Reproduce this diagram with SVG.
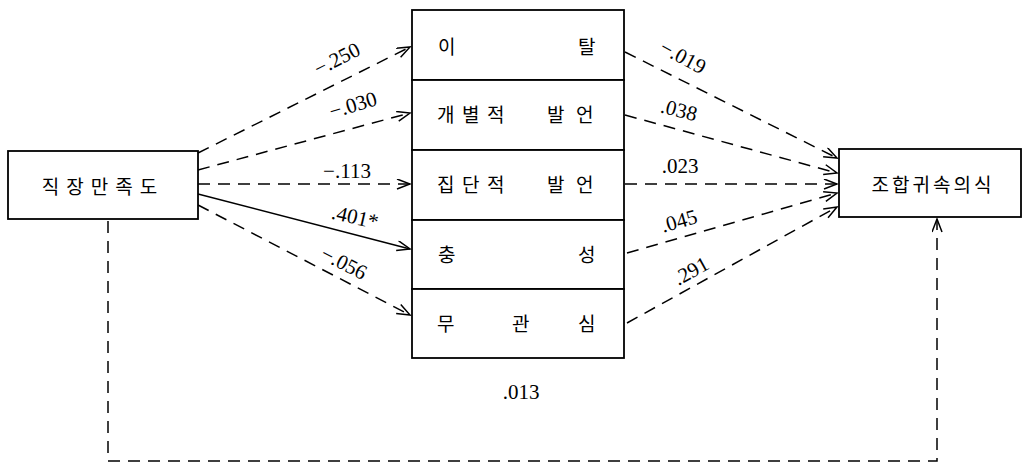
<svg xmlns="http://www.w3.org/2000/svg" width="1022" height="473" viewBox="0 0 1022 473">
<style>
.box{fill:#fff;stroke:#000;stroke-width:1.8}
.ko{font-family:"Noto Sans CJK KR","Noto Sans",sans-serif;font-size:19px;fill:#000;dominant-baseline:central}
.num{font-family:"Liberation Serif",serif;font-size:21px;fill:#000;text-anchor:middle;dominant-baseline:central}
.dash{fill:none;stroke:#000;stroke-width:1.5;stroke-dasharray:12 8}
.solid{fill:none;stroke:#000;stroke-width:1.5}
</style>
<defs>
<marker id="arr" markerUnits="userSpaceOnUse" markerWidth="16" markerHeight="12" refX="14" refY="5.5" orient="auto">
<path d="M1,0.5 L14,5.5 L1,10.5" fill="none" stroke="#000" stroke-width="1.5" stroke-dasharray="none"/>
</marker>
</defs>
<rect width="1022" height="473" fill="#fff"/>
<g id="connectors">
<path class="dash" d="M198,153 L410,47" marker-end="url(#arr)"/>
<path class="dash" d="M198,170 L410,113" marker-end="url(#arr)"/>
<path class="dash" d="M198,184 L410,184" marker-end="url(#arr)"/>
<path class="solid" d="M198,194 L410,249" marker-end="url(#arr)"/>
<path class="dash" d="M198,205 L410,315" marker-end="url(#arr)"/>
<path class="dash" d="M625,52 L837,158" marker-end="url(#arr)"/>
<path class="dash" d="M625,115 L837,173" marker-end="url(#arr)"/>
<path class="dash" d="M625,184 L837,184" marker-end="url(#arr)"/>
<path class="dash" d="M627,253 L837,193" marker-end="url(#arr)"/>
<path class="dash" d="M627,323 L837,207" marker-end="url(#arr)"/>
<path class="dash" d="M108,221 V461 H937 V219" marker-end="url(#arr)"/>
<text class="num" transform="translate(337,59) rotate(-27)">−.250</text>
<text class="num" transform="translate(353,105) rotate(-17)">−.030</text>
<text class="num" transform="translate(347,171)">−.113</text>
<text class="num" transform="translate(355,217) rotate(13)">.401*</text>
<text class="num" transform="translate(344,263) rotate(27)">−.056</text>
<text class="num" transform="translate(683,57) rotate(28)">−.019</text>
<text class="num" transform="translate(679,110) rotate(14)">.038</text>
<text class="num" transform="translate(680,166)">.023</text>
<text class="num" transform="translate(679,221) rotate(-16)">.045</text>
<text class="num" transform="translate(691,271) rotate(-29)">.291</text>
<text class="num" transform="translate(521,392)">.013</text>
</g>
<g id="job-satisfaction">
<rect class="box" x="8" y="151" width="190" height="68"/>
<text class="ko" x="103" y="185" text-anchor="middle" letter-spacing="7">직장만족도</text>
</g>
<g id="exit">
<rect class="box" x="412" y="10" width="212" height="70"/>
<text class="ko" x="438 578" y="45">이탈</text>
</g>
<g id="individual-voice">
<rect class="box" x="412" y="80" width="212" height="70"/>
<text class="ko" x="437 462 487 547 576" y="113">개별적발언</text>
</g>
<g id="group-voice">
<rect class="box" x="412" y="150" width="212" height="70"/>
<text class="ko" x="437 462 487 547 576" y="183">집단적발언</text>
</g>
<g id="loyalty">
<rect class="box" x="412" y="220" width="212" height="69"/>
<text class="ko" x="438 578" y="253">충성</text>
</g>
<g id="neglect">
<rect class="box" x="412" y="289" width="212" height="69"/>
<text class="ko" x="437 512 578" y="322">무관심</text>
</g>
<g id="union-commitment">
<rect class="box" x="839" y="149" width="182" height="68"/>
<text class="ko" x="933" y="183" text-anchor="middle" letter-spacing="3">조합귀속의식</text>
</g>
</svg>
